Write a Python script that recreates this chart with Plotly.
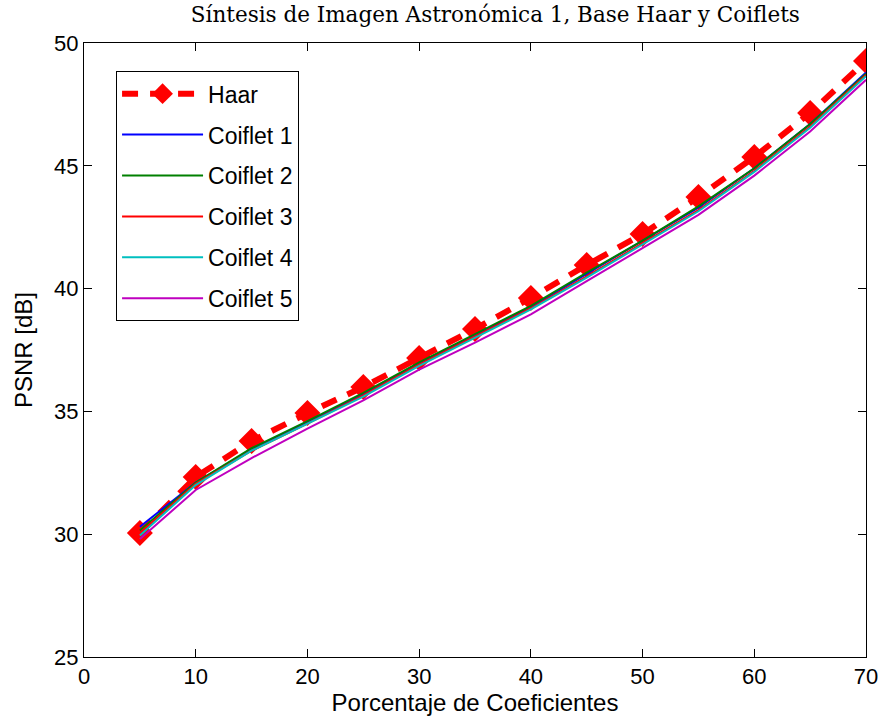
import plotly.graph_objects as go

x = [5, 10, 15, 20, 25, 30, 35, 40, 45, 50, 55, 60, 65, 70]
haar = [30.05, 32.33, 33.79, 34.93, 35.99, 37.17, 38.36, 39.62, 40.96, 42.22, 43.73, 45.36, 47.15, 49.27]
coif1 = [30.3, 32.1, 33.45, 34.55, 35.7, 36.95, 38.1, 39.25, 40.6, 41.95, 43.3, 44.9, 46.7, 48.8]
coif2 = [30.15, 32.1, 33.5, 34.6, 35.75, 37.0, 38.15, 39.3, 40.65, 41.95, 43.35, 44.9, 46.7, 48.75]
coif3 = [30.05, 32.05, 33.4, 34.5, 35.65, 36.9, 38.05, 39.2, 40.5, 41.85, 43.2, 44.8, 46.6, 48.7]
coif4 = [29.95, 32.0, 33.4, 34.5, 35.6, 36.85, 38.0, 39.15, 40.45, 41.8, 43.15, 44.75, 46.55, 48.65]
coif5 = [29.8, 31.8, 33.1, 34.3, 35.45, 36.7, 37.8, 38.95, 40.3, 41.65, 43.0, 44.6, 46.4, 48.5]

names = ["Coiflet 1", "Coiflet 2", "Coiflet 3", "Coiflet 4", "Coiflet 5"]
colors = ["#0000ff", "#008000", "#ff0000", "#00bfbf", "#bf00bf"]
series = [coif1, coif2, coif3, coif4, coif5]

fig = go.Figure()
fig.add_trace(go.Scatter(
    x=x, y=haar, name="Haar", mode="lines+markers", legendgroup="g0",
    line=dict(color="#ff0000", width=6, dash="16px,12px"),
    marker=dict(symbol="diamond", size=20, color="#ff0000"),
))
for i, (n, c, s) in enumerate(zip(names, colors, series)):
    fig.add_trace(go.Scatter(
        x=x, y=s, name=n, mode="lines", legendgroup=f"g{i+1}",
        line=dict(color=c, width=2),
    ))

font = "Liberation Sans, Arial, sans-serif"
axis_common = dict(
    showline=True, linecolor="black", linewidth=1, mirror="ticks",
    ticks="inside", ticklen=8, tickcolor="black", showgrid=False, zeroline=False,
    automargin=False, ticklabeloverflow="allow",
    tickfont=dict(family=font, size=22, color="black"),
)
fig.update_layout(
    width=878, height=719,
    margin=dict(l=84, r=12, t=43, b=62),
    paper_bgcolor="white", plot_bgcolor="white",
    title=dict(text="Síntesis de Imagen Astronómica 1, Base Haar y Coiflets",
               x=0.526, xref="paper", xanchor="center", y=0.980, yanchor="middle",
               font=dict(family="DejaVu Serif, serif", size=21.5, color="black")),
    xaxis=dict(range=[0, 70], dtick=10, **axis_common,
               title=dict(text="Porcentaje de Coeficientes", standoff=5,
                          font=dict(family=font, size=24, color="black"))),
    yaxis=dict(range=[25, 50], dtick=5, **axis_common,
               title=dict(text="PSNR [dB]", standoff=14,
                          font=dict(family=font, size=24, color="black"))),
    legend=dict(x=0.041, y=0.954, xanchor="left", yanchor="top",
                bgcolor="white", bordercolor="black", borderwidth=1,
                font=dict(family=font, size=23, color="black"),
                itemwidth=81, tracegroupgap=8, traceorder="grouped",
                entrywidth=190, entrywidthmode="pixels"),
    showlegend=True,
)
fig.write_html("out.html")
